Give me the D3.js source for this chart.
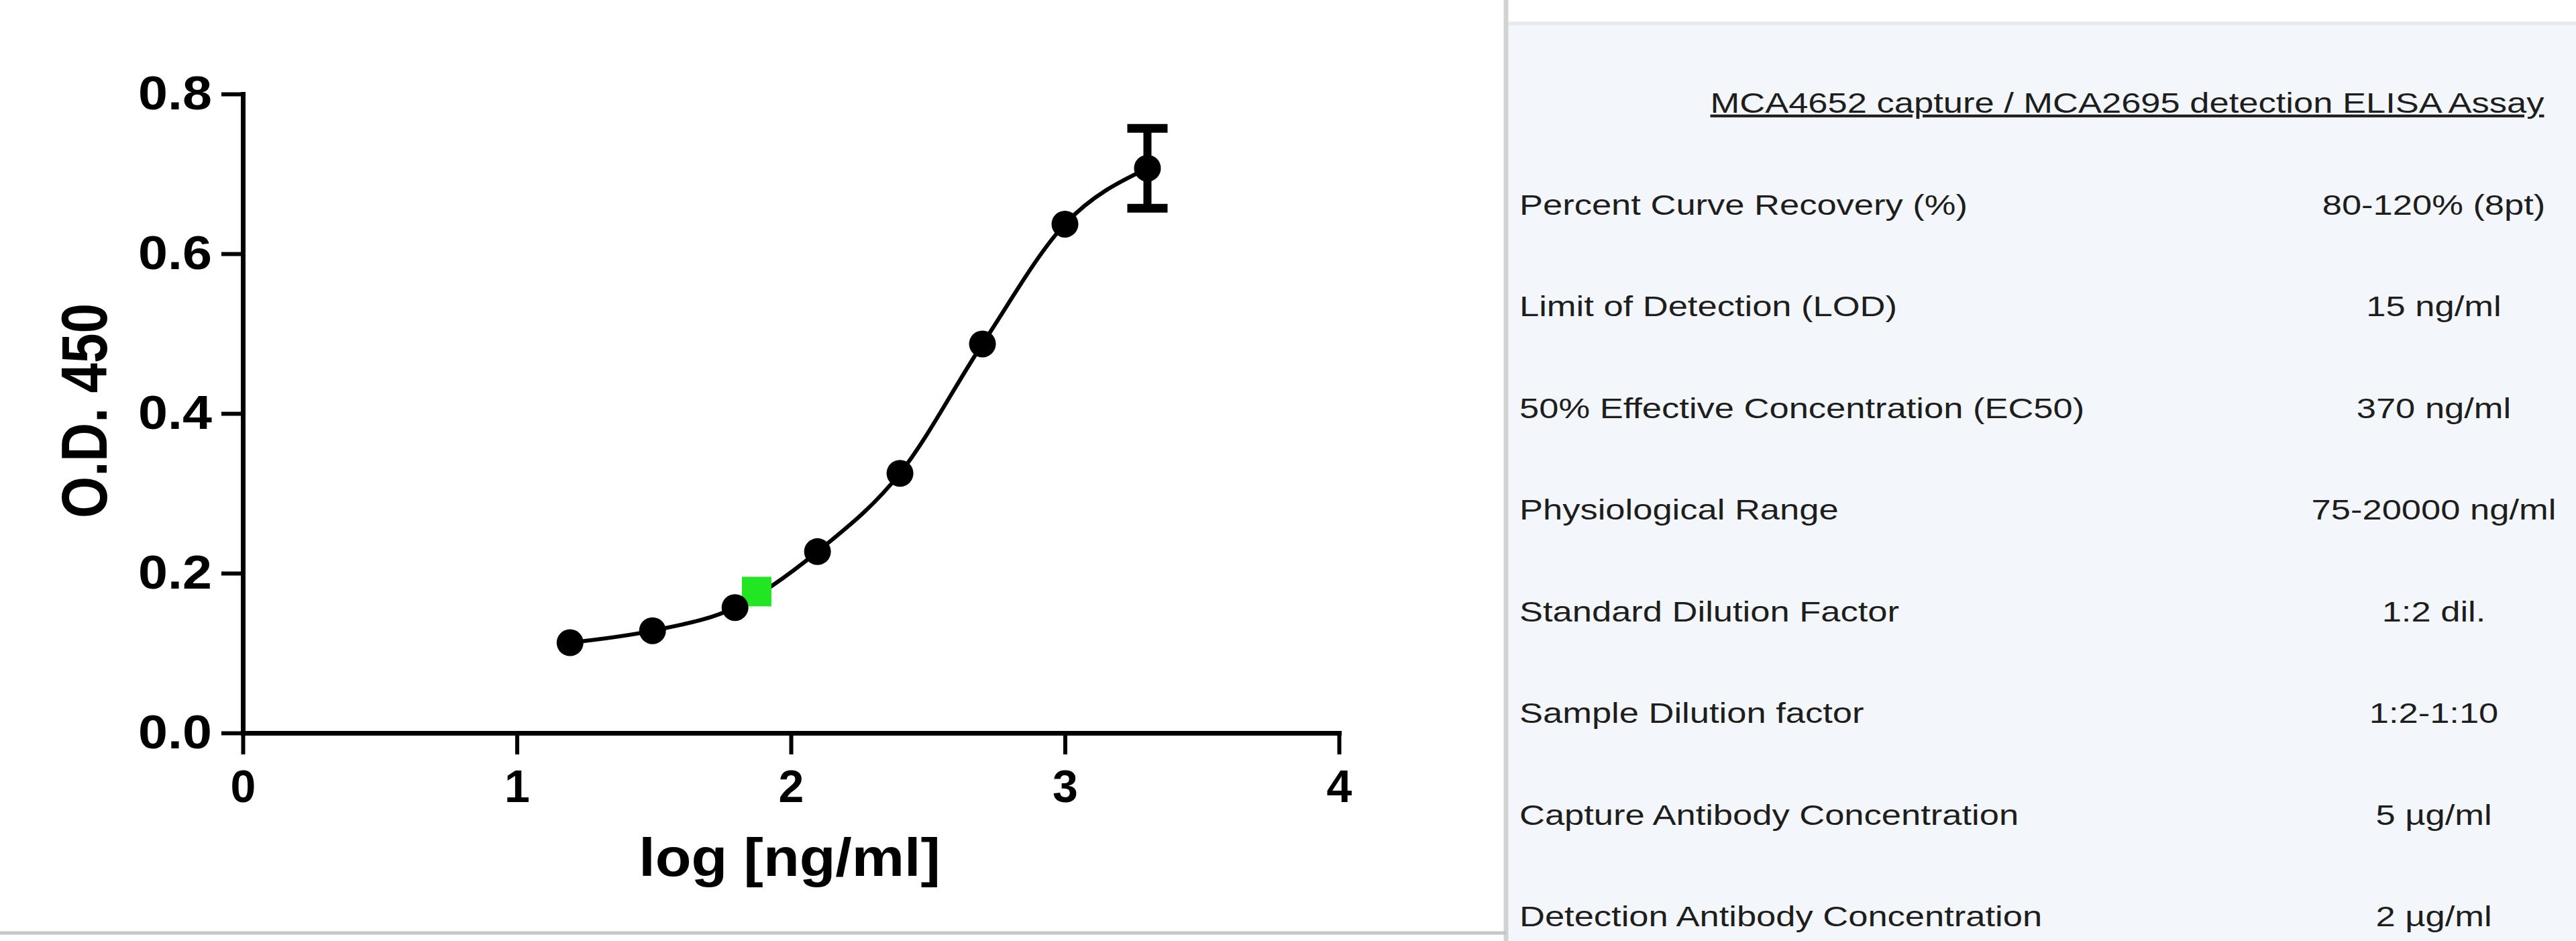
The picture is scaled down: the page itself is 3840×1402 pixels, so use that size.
<!DOCTYPE html>
<html>
<head>
<meta charset="utf-8">
<script src="https://cdn.jsdelivr.net/npm/d3@7"></script>
<style>
  html, body { margin: 0; padding: 0; background: #ffffff; }
  svg { display: block; }
</style>
</head>
<body>
<svg id="chart" width="3840" height="1402"></svg>
<script>
// ---------------- DATA ----------------
const logConc = [1.194, 1.495, 1.796, 2.097, 2.398, 2.699, 3.0, 3.301];
const odValues = [0.113, 0.128, 0.157, 0.227, 0.325, 0.487, 0.637, 0.707];
const odErrors = [0, 0, 0, 0, 0, 0, 0, 0.050];
const markerLogConc = [1.875];
const markerOD = [0.177];
const xTicks = [0, 1, 2, 3, 4];
const yTicks = [0.0, 0.2, 0.4, 0.6, 0.8];
const xTitle = "log [ng/ml]";
const yTitle = "O.D. 450";
const tableTitle = "MCA4652 capture / MCA2695 detection ELISA Assay";
const tableLabels = [
  "Percent Curve Recovery (%)",
  "Limit of Detection (LOD)",
  "50% Effective Concentration (EC50)",
  "Physiological Range",
  "Standard Dilution Factor",
  "Sample Dilution factor",
  "Capture Antibody Concentration",
  "Detection Antibody Concentration"
];
const tableValues = [
  "80-120% (8pt)",
  "15 ng/ml",
  "370 ng/ml",
  "75-20000 ng/ml",
  "1:2 dil.",
  "1:2-1:10",
  "5 µg/ml",
  "2 µg/ml"
];

// ---------------- LAYOUT ----------------
const svg = d3.select("#chart");
const FONT = "'Liberation Sans', Arial, Helvetica, sans-serif";

// panels
const panelX = 2245;
svg.append("rect").attr("x", 0).attr("y", 0).attr("width", 3840).attr("height", 1402).attr("fill", "#ffffff");
svg.append("rect").attr("x", panelX).attr("y", 0).attr("width", 3840 - panelX).attr("height", 1402).attr("fill", "#f3f6fa");
svg.append("rect").attr("x", panelX).attr("y", 0).attr("width", 3840 - panelX).attr("height", 32).attr("fill", "#ffffff");
svg.append("line").attr("x1", panelX).attr("x2", 3840).attr("y1", 35).attr("y2", 35)
  .attr("stroke", "#e4e9ed").attr("stroke-width", 5);
svg.append("line").attr("x1", panelX).attr("x2", panelX).attr("y1", 0).attr("y2", 1402)
  .attr("stroke", "#d2d2d2").attr("stroke-width", 7);
svg.append("line").attr("x1", 0).attr("x2", panelX).attr("y1", 1390).attr("y2", 1390)
  .attr("stroke", "#c6c6c6").attr("stroke-width", 5);

// ---------------- CHART ----------------
const x = d3.scaleLinear().domain([0, 4]).range([362, 1996]);
const y = d3.scaleLinear().domain([0, 0.8]).range([1092, 140]);

const gx = svg.append("g").attr("transform", `translate(0,${y(0)})`)
  .call(d3.axisBottom(x).tickValues(xTicks).tickFormat(d3.format("d")).tickSize(32).tickSizeOuter(0).tickPadding(23));
const gy = svg.append("g").attr("transform", `translate(${x(0)},0)`)
  .call(d3.axisLeft(y).tickValues(yTicks).tickFormat(d3.format(".1f")).tickSize(32).tickSizeOuter(0).tickPadding(14));

[gx, gy].forEach(g => {
  g.select(".domain").attr("stroke", "#000").attr("stroke-width", 7).attr("stroke-linecap", "square");
  g.selectAll(".tick line").attr("stroke", "#000").attr("stroke-width", 6);
  g.selectAll(".tick text").attr("fill", "#000").attr("font-family", FONT).attr("font-weight", "bold");
});
gx.selectAll(".tick text").attr("font-size", 68);
gy.selectAll(".tick text").attr("font-size", 70)
  .each(function() {
    const t = d3.select(this);
    const xx = +t.attr("x");
    t.attr("x", 0).attr("transform", `translate(${xx},0) scale(1.13,1)`);
  });

// axis titles
svg.append("text").attr("transform", `translate(1177,1305) scale(1.1,1)`)
  .attr("text-anchor", "middle").attr("font-family", FONT).attr("font-weight", "bold")
  .attr("font-size", 80).attr("fill", "#000").text(xTitle);
svg.append("text").attr("transform", `translate(159,612) scale(1.2,1) rotate(-90)`)
  .attr("text-anchor", "middle").attr("font-family", FONT).attr("font-weight", "bold")
  .attr("font-size", 80).attr("fill", "#000").text(yTitle);

// curve
const pts = logConc.map((c, i) => ({ x: c, y: odValues[i], e: odErrors[i] }));
const line = d3.line().x(d => x(d.x)).y(d => y(d.y)).curve(d3.curveMonotoneX);
svg.append("path").datum(pts).attr("d", line).attr("fill", "none")
  .attr("stroke", "#000").attr("stroke-width", 6);

// error bars
const eb = svg.append("g").selectAll("g").data(pts.filter(d => d.e > 0)).join("g");
eb.append("line").attr("x1", d => x(d.x)).attr("x2", d => x(d.x))
  .attr("y1", d => y(d.y + d.e)).attr("y2", d => y(d.y - d.e))
  .attr("stroke", "#000").attr("stroke-width", 12);
eb.append("line").attr("x1", d => x(d.x) - 30).attr("x2", d => x(d.x) + 30)
  .attr("y1", d => y(d.y + d.e)).attr("y2", d => y(d.y + d.e))
  .attr("stroke", "#000").attr("stroke-width", 13);
eb.append("line").attr("x1", d => x(d.x) - 30).attr("x2", d => x(d.x) + 30)
  .attr("y1", d => y(d.y - d.e)).attr("y2", d => y(d.y - d.e))
  .attr("stroke", "#000").attr("stroke-width", 13);

// green marker
const markers = markerLogConc.map((c, i) => ({ x: c, y: markerOD[i] }));
svg.append("g").selectAll("rect").data(markers).join("rect")
  .attr("x", d => x(d.x) - 22).attr("y", d => y(d.y) - 22)
  .attr("width", 44).attr("height", 44).attr("fill", "#22e622");

// points
svg.append("g").selectAll("circle").data(pts).join("circle")
  .attr("cx", d => x(d.x)).attr("cy", d => y(d.y)).attr("r", 20).attr("fill", "#000");

// ---------------- TABLE ----------------
const TS = 1.25;
const tt = svg.append("text").attr("transform", `translate(3171,168) scale(${TS},1)`)
  .attr("text-anchor", "middle").attr("font-family", FONT).attr("font-size", 42)
  .attr("fill", "#1e1e1e").attr("text-decoration", "underline").text(tableTitle);

const rowY = d3.scalePoint().domain(d3.range(tableLabels.length)).range([320, 1380]);
const rows = svg.append("g").selectAll("g").data(tableLabels).join("g");
rows.append("text")
  .attr("transform", (d, i) => `translate(2265,${rowY(i)}) scale(${TS},1)`)
  .attr("font-family", FONT).attr("font-size", 42).attr("fill", "#1e1e1e").text(d => d);
rows.append("text")
  .attr("transform", (d, i) => `translate(3628,${rowY(i)}) scale(${TS},1)`)
  .attr("text-anchor", "middle")
  .attr("font-family", FONT).attr("font-size", 42).attr("fill", "#1e1e1e").text((d, i) => tableValues[i]);
</script>
</body>
</html>
